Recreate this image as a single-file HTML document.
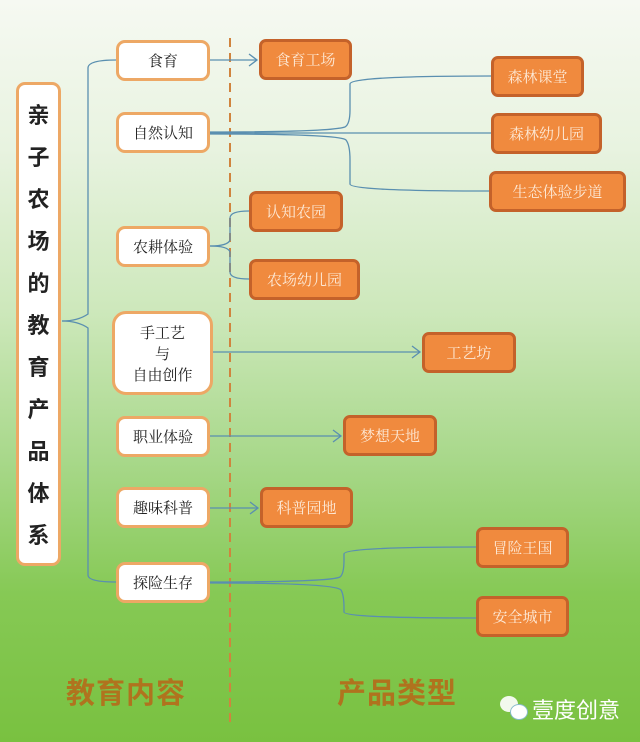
<!DOCTYPE html>
<html><head><meta charset="utf-8"><style>
body{margin:0;width:640px;height:742px;overflow:hidden;position:relative;font-family:"Liberation Sans","Noto Sans CJK SC",sans-serif;
background:linear-gradient(to bottom,#f6f9f2 0%,#e8f3e0 20%,#cde8bb 42%,#a8d88a 62%,#86c955 80%,#79c140 100%);}
.b{position:absolute;box-sizing:border-box;display:flex;align-items:center;justify-content:center;text-align:center;font-family:"Noto Serif CJK SC","Noto Sans CJK SC",serif;}
.w{background:#fff;border:3px solid #eda865;border-radius:9px;color:#222;font-size:15px;}
.o{background:#f08a3e;border:3px solid #c4622a;border-radius:7px;color:#fde9d6;font-size:15px;}
svg{position:absolute;left:0;top:0;}
.lab{position:absolute;font-size:29px;color:#b0731e;font-family:"Noto Sans CJK SC",sans-serif;font-weight:bold;letter-spacing:1px;}
</style></head><body>
<svg width="640" height="742">
<line x1="230" y1="38" x2="230" y2="725" stroke="#d0843e" stroke-width="2" stroke-dasharray="9,6"/>
<g fill="none" stroke="#5a8fb0" stroke-width="1.3">
<path d="M62 321 Q78 321 88 314 L88 68 Q88 60 116 60"/>
<path d="M62 321 Q78 321 88 328 L88 575 Q88 582 116 582"/>
<path d="M210 60 L257 60"/><path d="M249 54 L257 60 L249 66"/>
<path d="M210 132 Q330 132 345 127 Q350 124 350 110 L350 84 Q350 76 491 76"/>
<path d="M210 133 L491 133"/>
<path d="M210 134 Q340 134 346 140 Q350 145 350 160 L350 184 Q350 191 489 191"/>
<path d="M210 246 Q228 246 230 240 L230 218 Q230 211 249 211"/>
<path d="M210 246 Q228 246 230 252 L230 272 Q230 279 249 279"/>
<path d="M213 352 L420 352"/><path d="M412 346 L420 352 L412 358"/>
<path d="M210 436 L341 436"/><path d="M333 430 L341 436 L333 442"/>
<path d="M210 508 L258 508"/><path d="M250 502 L258 508 L250 514"/>
<path d="M210 582 Q330 582 340 577 Q344 574 344 560 L344 554 Q344 547 476 547"/>
<path d="M210 583 Q335 583 341 590 Q344 595 344 608 L344 612 Q344 618 476 618"/>
</g>
</svg>
<div class="b w" style="left:16px;top:82px;width:45px;height:484px;flex-direction:column;font-size:22px;line-height:42px;font-weight:bold;font-family:'Noto Sans CJK SC',sans-serif;">亲<br>子<br>农<br>场<br>的<br>教<br>育<br>产<br>品<br>体<br>系</div>
<div class="b w" style="left:116px;top:40px;width:94px;height:41px;">食育</div>
<div class="b w" style="left:116px;top:112px;width:94px;height:41px;">自然认知</div>
<div class="b w" style="left:116px;top:226px;width:94px;height:41px;">农耕体验</div>
<div class="b w" style="left:112px;top:311px;width:101px;height:84px;line-height:21px;border-radius:14px;">手工艺<br>与<br>自由创作</div>
<div class="b w" style="left:116px;top:416px;width:94px;height:41px;">职业体验</div>
<div class="b w" style="left:116px;top:487px;width:94px;height:41px;">趣味科普</div>
<div class="b w" style="left:116px;top:562px;width:94px;height:41px;">探险生存</div>
<div class="b o" style="left:259px;top:39px;width:93px;height:41px;">食育工场</div>
<div class="b o" style="left:491px;top:56px;width:93px;height:41px;">森林课堂</div>
<div class="b o" style="left:491px;top:113px;width:111px;height:41px;">森林幼儿园</div>
<div class="b o" style="left:489px;top:171px;width:137px;height:41px;">生态体验步道</div>
<div class="b o" style="left:249px;top:191px;width:94px;height:41px;">认知农园</div>
<div class="b o" style="left:249px;top:259px;width:111px;height:41px;">农场幼儿园</div>
<div class="b o" style="left:422px;top:332px;width:94px;height:41px;">工艺坊</div>
<div class="b o" style="left:343px;top:415px;width:94px;height:41px;">梦想天地</div>
<div class="b o" style="left:260px;top:487px;width:93px;height:41px;">科普园地</div>
<div class="b o" style="left:476px;top:527px;width:93px;height:41px;">冒险王国</div>
<div class="b o" style="left:476px;top:596px;width:93px;height:41px;">安全城市</div>
<div class="lab" style="left:66px;top:670px;">教育内容</div>
<div class="lab" style="left:337px;top:670px;">产品类型</div>
<div style="position:absolute;left:500px;top:696px;width:18px;height:16px;border-radius:50%;background:#fff;opacity:.9"></div>
<div style="position:absolute;left:510px;top:704px;width:16px;height:14px;border-radius:50%;background:#fff;border:1px solid #8bc"></div>
<div style="position:absolute;left:532px;top:693px;font-size:22px;color:#fff;font-family:'Noto Sans CJK SC',sans-serif;">壹度创意</div>
</body></html>
